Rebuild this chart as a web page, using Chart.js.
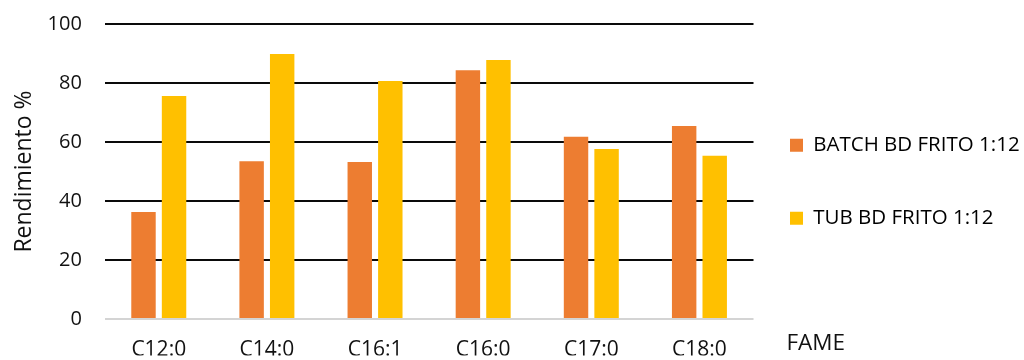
<!DOCTYPE html>
<html>
<head>
<meta charset="utf-8">
<script src="https://cdn.jsdelivr.net/npm/chart.js@4/dist/chart.umd.min.js"></script>
<style>
  html, body { margin: 0; padding: 0; background: #fff; }
  #wrap { width: 1024px; height: 360px; position: relative; }
</style>
</head>
<body>
<div id="wrap"><canvas id="chart" width="1024" height="360"></canvas></div>
<script>
// FAME categories and yields (%)
const categories = ['C12:0', 'C14:0', 'C16:1', 'C16:0', 'C17:0', 'C18:0'];
const batchValues = [36.3, 53.5, 53.2, 84.3, 61.8, 65.4];
const tubValues = [75.6, 89.8, 80.7, 87.8, 57.6, 55.3];
const seriesNames = ['BATCH BD FRITO 1:12', 'TUB BD FRITO 1:12'];
const yTicks = [0, 20, 40, 60, 80, 100];
const yTitle = 'Rendimiento %';
const xTitle = 'FAME';

const FONT = '"Open Sans", "Noto Sans", sans-serif';
const TEXT = '#111';
const CLEAR = 'rgba(0,0,0,0)';

// x-axis title sits to the right, under the legend
const xTitlePlugin = {
  id: 'xTitleRight',
  afterDraw(chart) {
    const ctx = chart.ctx;
    ctx.save();
    ctx.font = '22.5px ' + FONT;
    ctx.fillStyle = TEXT;
    ctx.textAlign = 'left';
    ctx.textBaseline = 'middle';
    ctx.fillText(xTitle, chart.chartArea.right + 33, 343.5);
    ctx.restore();
  }
};

new Chart(document.getElementById('chart'), {
  type: 'bar',
  data: {
    labels: categories,
    datasets: [
      { label: seriesNames[0], data: batchValues, backgroundColor: '#ED7D31' },
      { label: seriesNames[1], data: tubValues, backgroundColor: '#FFC000' }
    ]
  },
  options: {
    responsive: false,
    animation: false,
    devicePixelRatio: 1,
    categoryPercentage: 0.565,
    barPercentage: 0.8,
    layout: { padding: { top: 24, bottom: 4.5, left: 0, right: 0 } },
    plugins: {
      tooltip: { enabled: false },
      legend: {
        position: 'right',
        maxWidth: 270.5,
        labels: {
          boxWidth: 13,
          boxHeight: 13,
          padding: 36.5,
          color: TEXT,
          font: { family: FONT, size: 20.5, lineHeight: 1.78 },
          generateLabels(chart) {
            return chart.data.datasets.map((ds, i) => ({
              text: [ds.label],
              fillStyle: ds.backgroundColor,
              strokeStyle: ds.backgroundColor,
              lineWidth: 0,
              hidden: false,
              datasetIndex: i
            }));
          }
        }
      }
    },
    scales: {
      x: {
        grid: {
          display: true,
          drawOnChartArea: false,
          drawTicks: true,
          tickLength: 26.5,
          tickColor: CLEAR
        },
        border: { display: false },
        ticks: {
          color: TEXT,
          padding: 0,
          font: { family: FONT, size: 21, lineHeight: 0.476 },
          maxRotation: 0
        }
      },
      y: {
        min: 0,
        max: 100,
        afterBuildTicks(scale) {
          scale.ticks = yTicks.map(v => ({ value: v }));
        },
        grid: {
          drawTicks: true,
          tickLength: 22.8,
          tickColor: CLEAR,
          lineWidth: 2,
          color: (c) => (c.tick && c.tick.value === 0 ? '#d4d4d4' : '#0a0a0a')
        },
        border: { display: false },
        ticks: {
          color: TEXT,
          padding: 0,
          font: { family: FONT, size: 20 }
        },
        title: {
          display: true,
          text: yTitle,
          color: TEXT,
          font: { family: FONT, size: 23 },
          padding: { top: 11, bottom: 9 }
        }
      }
    }
  },
  plugins: [xTitlePlugin]
});
</script>
</body>
</html>
